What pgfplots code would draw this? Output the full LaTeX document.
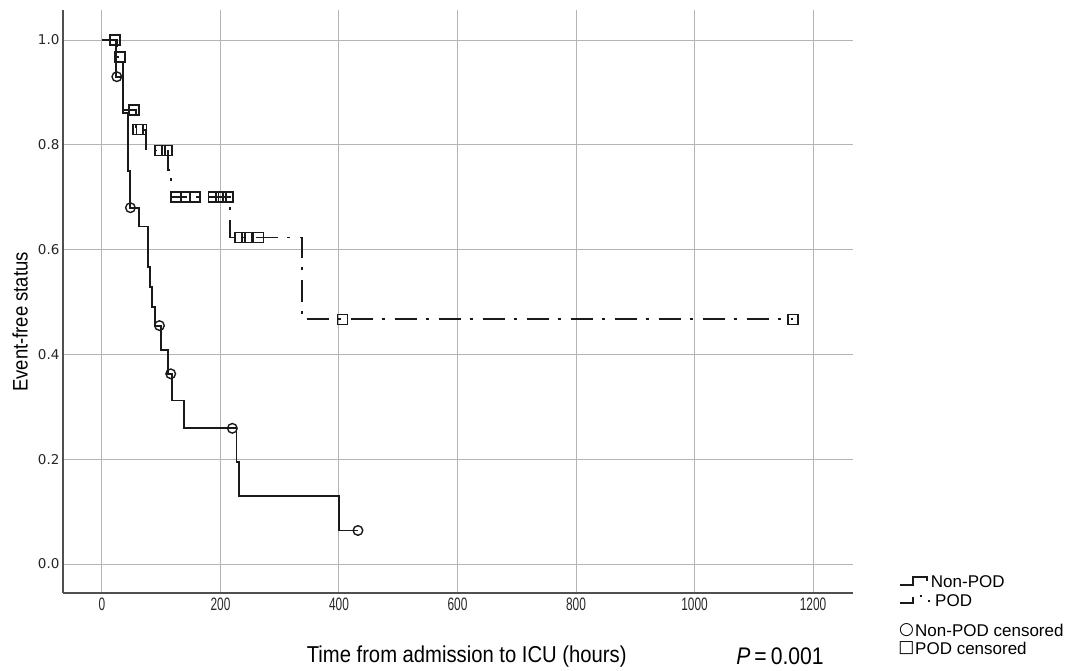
\documentclass[border=0pt]{standalone}
\usepackage{fontspec}
\setmainfont{Liberation Sans}
\newfontfamily\labelfont{Liberation Sans}[FakeStretch=0.88]
\newfontfamily\tickfont{Liberation Sans}[FakeStretch=0.66]
\newfontfamily\dejavu{DejaVu Sans}
\usepackage{pgfplots}
\pgfplotsset{compat=1.18}
\definecolor{gridgray}{HTML}{B4B4B4}
\definecolor{axgray}{HTML}{505050}
\definecolor{ink}{HTML}{1A1A1A}
\begin{document}
\begin{tikzpicture}
\begin{axis}[
  at={(0pt,0pt)}, anchor=south west,
  scale only axis, width=790pt, height=583pt,
  xmin=-65.8, xmax=1267.5, ymin=-0.0553, ymax=1.0573,
  axis x line*=bottom, axis y line*=left,
  axis line style={-, draw=axgray, line width=1.8pt},
  xtick={0,200,400,600,800,1000,1200},
  ytick={0,0.2,0.4,0.6,0.8,1.0},
  major tick length=0pt,
  grid=major, major grid style={draw=gridgray, line width=1pt},
  /pgf/number format/assume math mode=true,
  scaled ticks=false,
  yticklabel style={font=\dejavu\fontsize{13.5}{15}\selectfont, text=black!85,
    /pgf/number format/.cd, fixed, fixed zerofill, precision=1},
  xticklabel style={font=\tickfont\fontsize{18}{20}\selectfont, text=black!85, yshift=-1pt},
  xticklabel={\pgfmathprintnumber[fixed,precision=0,1000 sep={}]{\tick}},
  xlabel={Time from admission to ICU (hours)},
  xlabel style={font=\labelfont\fontsize{23}{26}\selectfont, at={(rel axis cs:0.511,-0.1083)}, anchor=center},
  ylabel={Event-free status},
  ylabel style={font=\labelfont\fontsize{21}{24}\selectfont, at={(rel axis cs:-0.0544,0.465)}, anchor=center},
  clip=false,
]
% POD survival curve (dash-dot)
\addplot[ink, line width=1.8pt, dash pattern=on 22pt off 9pt on 3pt off 10pt] coordinates {
(0,1.0) (26,1.0) (26,0.968) (36,0.968) (36,0.866) (58,0.866) (58,0.829)
(74,0.829) (74,0.789) (112,0.789) (112,0.752) (116,0.752) (116,0.701)
(216,0.701) (216,0.623) (338,0.623) (338,0.467) (1166,0.467)};
% Non-POD survival curve (solid)
\addplot[ink, line width=1.8pt] coordinates {
(0,1.0) (23,1.0) (23,0.93) (35,0.93) (35,0.86) (44,0.86) (44,0.75)
(47,0.75) (47,0.68) (62,0.68) (62,0.644) (78,0.644) (78,0.567) (81,0.567)
(81,0.529) (84,0.529) (84,0.491) (89,0.491) (89,0.455) (100,0.455)
(100,0.408) (112,0.408) (112,0.363) (118,0.363) (118,0.312) (138,0.312)
(138,0.259) (227,0.259) (227,0.195) (231,0.195) (231,0.130) (400,0.130)
(400,0.064) (432,0.064)};
% POD censored
\addplot[only marks, mark=square, mark size=5pt, mark options={ink, line width=1.6pt}] coordinates {
(22,1.0) (30,0.968) (54,0.866) (61,0.829) (67,0.829) (98,0.789) (110,0.789)
(125,0.701) (141,0.701) (157,0.701) (188,0.701) (201,0.701) (213,0.701)
(233,0.623) (245,0.623) (264,0.623) (406,0.467) (1166,0.467)};
% Non-POD censored
\addplot[only marks, mark=o, mark size=4.8pt, mark options={ink, line width=1.4pt}] coordinates {
(25,0.93) (48,0.68) (97,0.455) (116,0.363) (220,0.259) (432,0.064)};
\node[font=\labelfont\fontsize{24}{26}\selectfont] at (rel axis cs:0.9076,-0.1083) {\textit{P}\,=\,0.001};
\end{axis}
% legend
\draw[ink, line width=1.4pt] (837pt,8pt) -- (850pt,8pt) -- (850pt,16pt) -- (864pt,16pt) -- (864pt,12pt);
\node[anchor=west, inner sep=0pt, font=\fontsize{17}{19}\selectfont] at (867.7pt,11.3pt) {Non-POD};
\draw[ink, line width=1.4pt] (837pt,-10pt) -- (850pt,-10pt) -- (850pt,-4pt);
\draw[ink, line width=1.4pt] (857pt,-3pt) -- (858.5pt,-3pt);
\draw[ink, line width=1.4pt] (865pt,-8pt) -- (866.5pt,-8pt);
\node[anchor=west, inner sep=0pt, font=\fontsize{17}{19}\selectfont] at (872pt,-7.7pt) {POD};
\node[inner sep=0pt, font=\dejavu\fontsize{17}{19}\selectfont] at (843.5pt,-37pt) {○};
\node[anchor=west, inner sep=0pt, font=\fontsize{17}{19}\selectfont] at (852pt,-37pt) {Non-POD censored};
\node[inner sep=0pt, font=\dejavu\fontsize{17}{19}\selectfont] at (843.5pt,-55.3pt) {□};
\node[anchor=west, inner sep=0pt, font=\fontsize{17}{19}\selectfont] at (852pt,-55.3pt) {POD censored};
\path[use as bounding box] (-63pt,-74pt) rectangle (1007pt,593pt);
\end{tikzpicture}
\end{document}
